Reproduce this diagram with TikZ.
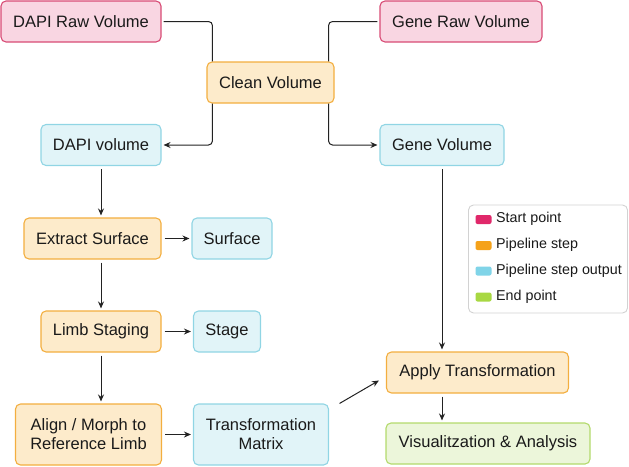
\documentclass[tikz,border=0pt]{standalone}
\usepackage{fontspec}
\setmainfont{Liberation Sans}
\usetikzlibrary{arrows.meta,calc}
\definecolor{pinkfill}{HTML}{F9D6E2}
\definecolor{pinkdraw}{HTML}{D84B75}
\definecolor{pinkswatch}{HTML}{E0286A}
\definecolor{orfill}{HTML}{FDEBCB}
\definecolor{ordraw}{HTML}{F3AE3F}
\definecolor{orswatch}{HTML}{F5A21B}
\definecolor{blfill}{HTML}{E1F4F8}
\definecolor{bldraw}{HTML}{90D5E4}
\definecolor{blswatch}{HTML}{80D4E8}
\definecolor{grfill}{HTML}{ECF6DA}
\definecolor{grdraw}{HTML}{B3DA6C}
\definecolor{grswatch}{HTML}{A8D843}
\definecolor{linec}{HTML}{222222}
\definecolor{txtc}{HTML}{1A1A1A}
\definecolor{legc}{HTML}{D2D2D2}
\begin{document}
\begin{tikzpicture}[x=1pt,y=-1pt,
  box/.style={draw, rounded corners=5pt, line width=1.1pt, inner sep=0pt,
    minimum height=41pt, align=center, text=txtc,
    font=\fontsize{16.5}{19}\selectfont},
  startbox/.style={box, fill=pinkfill, draw=pinkdraw},
  stepbox/.style={box, fill=orfill, draw=ordraw},
  outbox/.style={box, fill=blfill, draw=bldraw},
  endbox/.style={box, fill=grfill, draw=grdraw},
  conn/.style={draw=linec, line width=1pt},
  arr/.style={conn, -{Stealth[length=7pt,width=6pt]}},
  swatch/.style={rounded corners=2pt, minimum width=16pt, minimum height=9pt, inner sep=0pt},
  legtext/.style={anchor=west, inner sep=0pt, text=txtc, font=\fontsize{14.3}{16}\selectfont}
]
\useasboundingbox (0,0) rectangle (629,466);

% nodes
\node[startbox, minimum width=160pt] (dapiraw) at (81,21.5) {DAPI Raw Volume};
\node[startbox, minimum width=162pt] (generaw) at (461,21.5) {Gene Raw Volume};
\node[stepbox, minimum width=127pt] (clean) at (270.5,82.5) {Clean Volume};
\node[outbox, minimum width=120pt] (dapivol) at (101,145) {DAPI volume};
\node[outbox, minimum width=124pt] (genevol) at (442,145) {Gene Volume};
\node[stepbox, minimum width=137pt] (extract) at (92.5,238.5) {Extract Surface};
\node[outbox, minimum width=80pt] (surface) at (232,238.5) {Surface};
\node[stepbox, minimum width=120pt] (limb) at (101,331.5) {Limb Staging};
\node[outbox, minimum width=67pt] (stage) at (227,331.5) {Stage};
\node[stepbox, minimum width=146pt, minimum height=61pt] (align) at (88.5,434.5) {Align / Morph to\\Reference Limb};
\node[outbox, minimum width=135pt, minimum height=61pt] (tmat) at (261,434.5) {Transformation\\Matrix};
\node[stepbox, minimum width=182pt] (apply) at (477.5,372.5) {Apply Transformation};
\node[endbox, minimum width=204pt] (vis) at (488,443.5) {Visualitzation \& Analysis};

% legend
\node[draw=legc, fill=white, rounded corners=5pt, line width=0.9pt, minimum width=159pt, minimum height=108pt, inner sep=0pt] (legend) at (548,259) {};
\node[swatch, fill=pinkswatch] (sw1) at (483.5,219.5) {};
\node[swatch, fill=orswatch] (sw2) at (483.5,245.5) {};
\node[swatch, fill=blswatch] (sw3) at (483.5,271) {};
\node[swatch, fill=grswatch] (sw4) at (483.5,297) {};
\node[legtext] (l1) at (496,219) {Start point};
\node[legtext] (l2) at (496,245) {Pipeline step};
\node[legtext] (l3) at (496,270.5) {Pipeline step output};
\node[legtext] (l4) at (496,296.5) {End point};

% connectors
\draw[conn, rounded corners=4pt, shorten <=2pt] (dapiraw.east) -| ([xshift=6pt]clean.north west);
\draw[conn, rounded corners=4pt, shorten <=2pt] (generaw.west) -| ([xshift=-6pt]clean.north east);
\draw[arr, rounded corners=4pt, shorten >=2pt] ([xshift=6pt]clean.south west) |- (dapivol.east);
\draw[arr, rounded corners=4pt, shorten >=2pt] ([xshift=-6pt]clean.south east) |- (genevol.west);

\draw[arr, shorten <=3pt, shorten >=2pt] (dapivol.south) -- (extract.north -| dapivol.south);
\draw[arr, shorten <=3pt, shorten >=2pt] (extract.east) -- (surface.west);
\draw[arr, shorten <=3pt, shorten >=2pt] (extract.south -| limb.north) -- (limb.north);
\draw[arr, shorten <=3pt, shorten >=2pt] (limb.east) -- (stage.west);
\draw[arr, shorten <=3pt, shorten >=2pt] (limb.south) -- (align.north -| limb.south);
\draw[arr, shorten <=3pt, shorten >=2pt] (align.east |- tmat.east) -- (tmat.west);
\coordinate (tmout) at ([xshift=10.5pt]tmat.north east);
\coordinate (apin) at ([xshift=-7pt,yshift=-8pt]apply.west);
\draw[arr] (tmout) -- (apin);
\draw[arr, shorten <=3pt, shorten >=2pt] (genevol.south) -- (apply.north -| genevol.south);
\draw[arr, shorten <=3pt, shorten >=2pt] (apply.south -| genevol.south) -- (vis.north -| genevol.south);
\end{tikzpicture}
\end{document}
